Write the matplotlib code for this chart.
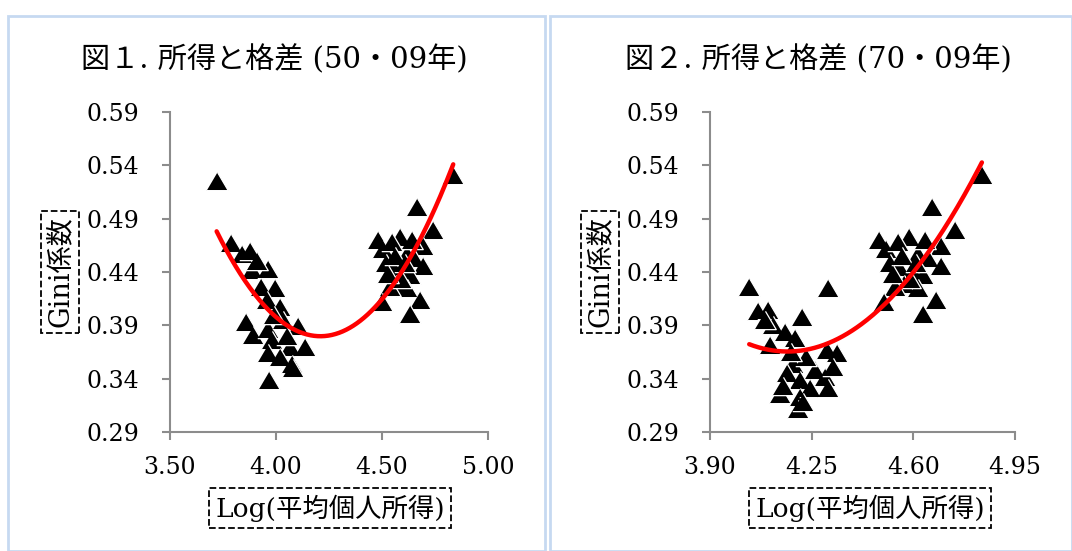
import numpy as np
import matplotlib
matplotlib.use("Agg")
import matplotlib.pyplot as plt
from matplotlib.patches import Rectangle

plt.rcParams['font.family'] = ['DejaVu Serif', 'Noto Sans CJK JP']

# 2009年 (両図で共通)
x09 = [4.836, 4.663, 4.742, 4.585, 4.483, 4.506, 4.546, 4.695, 4.616, 4.650,
       4.520, 4.550, 4.695, 4.600, 4.632, 4.567, 4.616, 4.538, 4.498, 4.679,
       4.632, 4.590, 4.560, 4.640, 4.530, 4.610]
y09 = [0.531, 0.501, 0.479, 0.473, 0.470, 0.462, 0.468, 0.464, 0.457, 0.453,
       0.448, 0.445, 0.446, 0.440, 0.437, 0.429, 0.425, 0.426, 0.412, 0.414,
       0.401, 0.433, 0.455, 0.470, 0.438, 0.448]

# 1950年
x50 = [3.720, 3.790, 3.840, 3.877, 3.885, 3.964, 3.930, 3.995, 3.956, 4.020,
       3.857, 3.890, 3.960, 4.035, 4.105, 3.980, 4.066, 4.137, 3.960, 4.020,
       4.074, 3.965, 4.080, 3.910, 3.990, 4.050]
y50 = [0.525, 0.467, 0.457, 0.460, 0.442, 0.443, 0.426, 0.425, 0.414, 0.407,
       0.393, 0.381, 0.387, 0.395, 0.389, 0.376, 0.370, 0.370, 0.364, 0.360,
       0.354, 0.339, 0.350, 0.450, 0.400, 0.380]

# 1970年
x70 = [4.035, 4.066, 4.100, 4.118, 4.216, 4.307, 4.107, 4.158, 4.193, 4.302,
       4.336, 4.187, 4.164, 4.210, 4.261, 4.296, 4.325, 4.141, 4.210, 4.244,
       4.307, 4.204, 4.090, 4.230, 4.180, 4.150, 4.220]
y70 = [0.426, 0.403, 0.404, 0.390, 0.398, 0.425, 0.372, 0.384, 0.378, 0.367,
       0.364, 0.354, 0.345, 0.339, 0.348, 0.342, 0.351, 0.326, 0.323, 0.331,
       0.331, 0.312, 0.395, 0.360, 0.365, 0.333, 0.318]

titles = ['図１. 所得と格差 (50・09年)', '図２. 所得と格差 (70・09年)']
xticks_list = [[3.50, 4.00, 4.50, 5.00], [3.90, 4.25, 4.60, 4.95]]
yticks = [0.29, 0.34, 0.39, 0.44, 0.49, 0.54, 0.59]

W, H = 1072, 551
fig = plt.figure(figsize=(W / 100, H / 100), dpi=100)

# 薄い青の枠
for (x0, x1) in [(8, 545), (550, 1072)]:
    fig.patches.append(Rectangle((x0 / W, 0), (x1 - x0) / W, 1 - 16 / H,
                                 transform=fig.transFigure, fill=False,
                                 edgecolor='#c6d9f1', lw=2))

tri = [(-1, -0.85), (1, -0.85), (0, 0.85)]
# 軸の位置 (px), タイトル中心, x ラベル中心, y ラベル中心
panels = [
    (170, 488, x50, y50, 274, 330, 60),
    (710, 1015, x70, y70, 818, 870, 600),
]
for i, (px0, px1, xs, ys, tcx, xlx, ylx) in enumerate(panels):
    ax = fig.add_axes([px0 / W, 1 - 432 / H, (px1 - px0) / W, (432 - 112) / H])
    xt = xticks_list[i]
    xa = np.array(xs + x09)
    ya = np.array(ys + y09)
    ax.scatter(xa, ya, marker=tri, s=240, color='black', edgecolor='white',
               linewidth=0.9, zorder=2)
    c = np.polyfit(xa, ya, 2)
    xx = np.linspace(xa.min(), xa.max(), 200)
    ax.plot(xx, np.polyval(c, xx), color='#ff0000', lw=3.2,
            solid_capstyle='round', zorder=3)
    ax.set_xlim(xt[0], xt[-1])
    ax.set_ylim(0.29, 0.59)
    ax.set_xticks(xt)
    ax.set_xticklabels([f'{v:.2f}' for v in xt])
    ax.set_yticks(yticks)
    ax.set_yticklabels([f'{v:.2f}' for v in yticks])
    for s in ['top', 'right']:
        ax.spines[s].set_visible(False)
    for s in ['left', 'bottom']:
        ax.spines[s].set_color('#8c8c8c')
        ax.spines[s].set_linewidth(1.5)
    ax.tick_params(axis='both', colors='#8c8c8c', length=6, width=1.5,
                   labelsize=17, labelcolor='black')
    ax.tick_params(axis='y', pad=16)
    ax.tick_params(axis='x', pad=11)

    fig.text(tcx / W, 1 - 60 / H, titles[i], ha='center', va='center',
             fontsize=21)
    fig.text(xlx / W, 1 - 508 / H, 'Log(平均個人所得)',
             ha='center', va='center', fontsize=19,
             bbox=dict(boxstyle='square,pad=0.25', fc='white', ec='black',
                       ls='--', lw=1.3))
    fig.text(ylx / W, 1 - 272 / H, 'Gini係数', rotation=90,
             ha='center', va='center', fontsize=19.5,
             bbox=dict(boxstyle='square,pad=0.22', fc='white', ec='black',
                       ls='--', lw=1.3))

fig.savefig('out.png', dpi=100)
